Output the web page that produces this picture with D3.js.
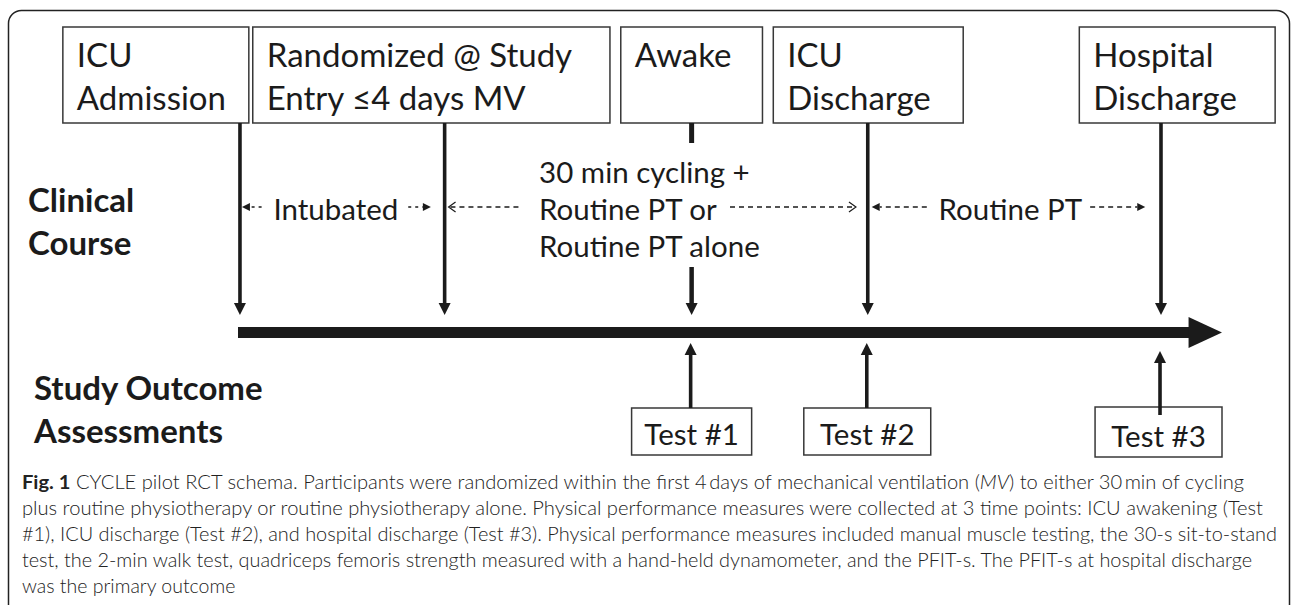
<!DOCTYPE html>
<html>
<head>
<meta charset="utf-8">
<script src="https://cdn.jsdelivr.net/npm/d3@7"></script>
<style>
  html, body { margin: 0; padding: 0; background: #fff; }
  svg { display: block; }
</style>
</head>
<body>
<svg id="chart" width="1292" height="605"></svg>
<script>
// ---------------- data ----------------
const eventLabels = [["ICU", "Admission"], ["Randomized @ Study", "Entry \u22644 days MV"], ["Awake"], ["ICU", "Discharge"], ["Hospital", "Discharge"]];
// schematic position of each event on the timeline (0 = start, 100 = arrow tip)
const eventPos = [0.2, 21.0, 46.1, 64.0, 93.8];
const eventBoxSpans = [[-17.8, 1.1], [1.5, 37.8], [38.9, 53.3], [54.4, 73.7], [85.5, 105.4]];

const testLabels = ["Test #1", "Test #2", "Test #3"];
const testPos = [46.0, 63.9, 93.7];
const testBoxSpans = [[40.0, 52.2], [57.5, 70.4], [87.1, 100.0]];

const phaseLabels = [["Intubated"], ["30 min cycling +", "Routine PT or", "Routine PT alone"], ["Routine PT"]];
const phaseTextStart = [3.6, 30.6, 71.2];
// dashed arrows: [from, to, head style]
const phaseArrows = [[2.4, 0.4, "filled"], [17.3, 19.6, "filled"], [28.5, 21.4, "open"], [50.0, 62.8, "open"], [70.0, 64.4, "filled"], [86.6, 92.2, "filled"]];

const rowLabels = [["Clinical", "Course"], ["Study Outcome", "Assessments"]];

const captionLines = [
  [["Fig. 1", "b"], [" CYCLE pilot RCT schema. Participants were randomized within the first 4\u2009days of mechanical ventilation (", ""], ["MV", "i"], [") to either 30\u2009min of cycling", ""]],
  [["plus routine physiotherapy or routine physiotherapy alone. Physical performance measures were collected at 3 time points: ICU awakening (Test", ""]],
  [["#1), ICU discharge (Test #2), and hospital discharge (Test #3). Physical performance measures included manual muscle testing, the 30-s sit-to-stand", ""]],
  [["test, the 2-min walk test, quadriceps femoris strength measured with a hand-held dynamometer, and the PFIT-s. The PFIT-s at hospital discharge", ""]],
  [["was the primary outcome", ""]]
];
const captionEnds = [1244, 1263, 1277, 1252, null];

// ---------------- layout ----------------
const svg = d3.select("#chart");
const x = d3.scaleLinear().domain([0, 100]).range([238, 1222]);
const ink = "#1b1b1b";
const FONT = "Lato, 'Open Sans', sans-serif";

// outer frame (bottom runs off the page)
svg.append("rect").attr("x", 8.5).attr("y", 10.5).attr("width", 1281).attr("height", 700)
  .attr("rx", 13).attr("fill", "none").attr("stroke", "#222").attr("stroke-width", 1.5);

// event boxes
const boxTop = 27, boxBot = 123;
const eg = svg.append("g");
eventLabels.forEach((lines, i) => {
  const [a, b] = eventBoxSpans[i];
  eg.append("rect").attr("x", x(a)).attr("y", boxTop).attr("width", x(b) - x(a)).attr("height", boxBot - boxTop)
    .attr("fill", "#fff").attr("stroke", "#383838").attr("stroke-width", 1.5);
  lines.forEach((t, j) => {
    eg.append("text").attr("x", x(a) + 14).attr("y", 67 + j * 43)
      .attr("font-family", FONT).attr("font-size", 33).attr("fill", ink).text(t);
  });
});

// vertical down arrows from boxes to timeline
function downHead(g, cx, tip, w, h) {
  g.append("path").attr("d", `M${cx - w / 2},${tip - h}L${cx + w / 2},${tip - h}L${cx},${tip}Z`).attr("fill", ink);
}
function upHead(g, cx, tip, w, h) {
  g.append("path").attr("d", `M${cx - w / 2},${tip + h}L${cx + w / 2},${tip + h}L${cx},${tip}Z`).attr("fill", ink);
}
const ag = svg.append("g");
const tipY = 315;
eventPos.forEach((p, i) => {
  const cx = x(p);
  if (i === 2) {
    ag.append("line").attr("x1", cx).attr("x2", cx).attr("y1", boxBot).attr("y2", 143)
      .attr("stroke", ink).attr("stroke-width", 5);
    ag.append("line").attr("x1", cx).attr("x2", cx).attr("y1", 267).attr("y2", tipY - 11)
      .attr("stroke", ink).attr("stroke-width", 4.5);
  } else {
    ag.append("line").attr("x1", cx).attr("x2", cx).attr("y1", boxBot).attr("y2", tipY - 11)
      .attr("stroke", ink).attr("stroke-width", 3.6);
  }
  downHead(ag, cx, tipY, 12, 12);
});

// main timeline
svg.append("rect").attr("x", x(0)).attr("y", 327).attr("width", x(96.7) - x(0)).attr("height", 11).attr("fill", ink);
svg.append("path").attr("d", `M${x(96.6)},317L${x(100)},332.5L${x(96.6)},348Z`).attr("fill", ink);

// tests
const tg = svg.append("g");
testLabels.forEach((t, i) => {
  const [a, b] = testBoxSpans[i];
  const top = i === 2 ? 407 : 408;
  const bot = i === 2 ? 457 : 455;
  tg.append("rect").attr("x", x(a)).attr("y", top).attr("width", x(b) - x(a)).attr("height", bot - top)
    .attr("fill", "#fff").attr("stroke", "#383838").attr("stroke-width", 1.5);
  tg.append("text").attr("x", (x(a) + x(b)) / 2).attr("y", i === 2 ? 447 : 445).attr("text-anchor", "middle")
    .attr("font-family", FONT).attr("font-size", 29.5).attr("fill", ink).text(t);
  const cx = x(testPos[i]);
  const tip = i === 2 ? 351 : 343;
  tg.append("line").attr("x1", cx).attr("x2", cx).attr("y1", i === 2 ? 415 : top).attr("y2", tip + 11)
    .attr("stroke", ink).attr("stroke-width", 3.6);
  upHead(tg, cx, tip, 12, 12);
});

// phase labels
const pg = svg.append("g");
const phaseBase = [[220], [183, 220, 257], [220]];
phaseLabels.forEach((lines, i) => {
  lines.forEach((t, j) => {
    pg.append("text").attr("x", x(phaseTextStart[i])).attr("y", phaseBase[i][j])
      .attr("font-family", FONT).attr("font-size", 29.5).attr("fill", ink).text(t);
  });
});
const dashY = 207;
phaseArrows.forEach(([f, t, style]) => {
  const x1 = x(f), x2 = x(t);
  const dir = Math.sign(x2 - x1);
  const hl = 8;
  pg.append("line").attr("x1", x1).attr("x2", x2 - dir * (style === "filled" ? hl : 1)).attr("y1", dashY).attr("y2", dashY)
    .attr("stroke", ink).attr("stroke-width", 1.5).attr("stroke-dasharray", style === "filled" && Math.abs(x2 - x1) < 30 ? "3,4" : "5,4");
  if (style === "filled") {
    pg.append("path").attr("d", `M${x2},${dashY}L${x2 - dir * hl},${dashY - 4}L${x2 - dir * hl},${dashY + 4}Z`).attr("fill", ink);
  } else {
    pg.append("path").attr("d", `M${x2 - dir * 7},${dashY - 5}L${x2},${dashY}L${x2 - dir * 7},${dashY + 5}`)
      .attr("fill", "none").attr("stroke", ink).attr("stroke-width", 1.2);
  }
});

// row labels
const rg = svg.append("g");
const rowX = [28, 34], rowBase = [[212, 255], [400, 443]];
rowLabels.forEach((lines, i) => {
  lines.forEach((t, j) => {
    rg.append("text").attr("x", rowX[i]).attr("y", rowBase[i][j])
      .attr("font-family", FONT).attr("font-weight", 700).attr("font-size", 33).attr("fill", ink).text(t);
  });
});

// caption
const cg = svg.append("g");
captionLines.forEach((segs, i) => {
  const txt = cg.append("text").attr("x", 22).attr("y", 489 + i * 26)
    .attr("font-family", FONT).attr("font-weight", 300).attr("font-size", 19.5).attr("fill", "#222");
  segs.forEach(([s, st]) => {
    const ts = txt.append("tspan").text(s);
    if (st === "b") ts.attr("font-weight", 700);
    if (st === "i") ts.attr("font-style", "italic");
  });
  if (captionEnds[i]) txt.attr("textLength", captionEnds[i] - 22).attr("lengthAdjust", "spacingAndGlyphs");
});
</script>
</body>
</html>
